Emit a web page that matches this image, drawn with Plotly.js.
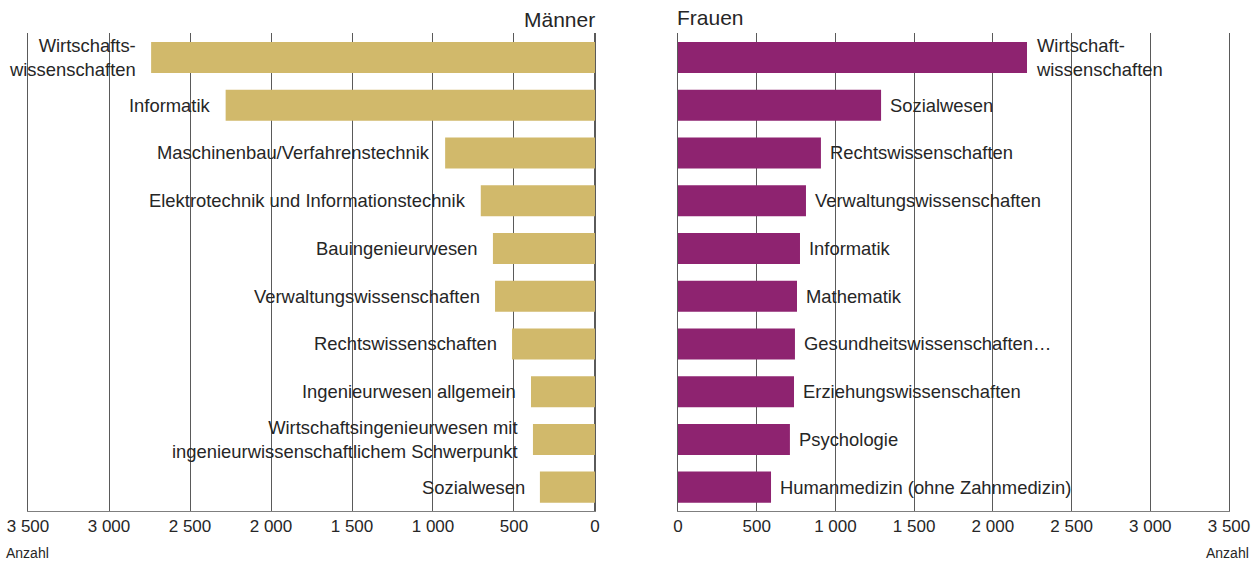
<!DOCTYPE html>
<html>
<head>
<meta charset="utf-8">
<script src="https://cdn.plot.ly/plotly-3.0.1.min.js"></script>
<style>html,body{margin:0;padding:0;background:#fff;}#chart{width:1257px;height:565px;}</style>
</head>
<body>
<div id="chart"></div>
<script>
const menCategories = [
  "Wirtschafts-<br>wissenschaften",
  "Informatik",
  "Maschinenbau/Verfahrenstechnik",
  "Elektrotechnik und Informationstechnik",
  "Bauingenieurwesen",
  "Verwaltungswissenschaften",
  "Rechtswissenschaften",
  "Ingenieurwesen allgemein",
  "Wirtschaftsingenieurwesen mit<br>ingenieurwissenschaftlichem Schwerpunkt",
  "Sozialwesen"
];
const menValues = [2740, 2280, 925, 705, 630, 617, 512, 395, 383, 340];

const womenCategories = [
  "Wirtschaft-<br>wissenschaften",
  "Sozialwesen",
  "Rechtswissenschaften",
  "Verwaltungswissenschaften",
  "Informatik",
  "Mathematik",
  "Gesundheitswissenschaften…",
  "Erziehungswissenschaften",
  "Psychologie",
  "Humanmedizin (ohne Zahnmedizin)"
];
const womenValues = [2217, 1290, 908, 813, 775, 756, 743, 737, 711, 591];

const tickValues = [0, 500, 1000, 1500, 2000, 2500, 3000, 3500];
const tickLabels = ["0", "500", "1 000", "1 500", "2 000", "2 500", "3 000", "3 500"];

const menColor = "#D1B96B";
const womenColor = "#8E2370";
const gridColor = "#5a5a5a";
const textColor = "#262626";
const fontFamily = "Liberation Sans, Arial, sans-serif";

const traces = [
  {
    type: "bar", orientation: "h",
    x: menValues, y: menCategories,
    xaxis: "x", yaxis: "y",
    marker: {color: menColor},
    hoverinfo: "skip"
  },
  {
    type: "bar", orientation: "h",
    x: womenValues, y: womenCategories,
    xaxis: "x2", yaxis: "y2",
    marker: {color: womenColor},
    hoverinfo: "skip"
  }
];

const labelFont = {size: 18.4, color: textColor, family: fontFamily};
const annotations = [];
menCategories.forEach((c, i) => {
  annotations.push({
    x: menValues[i], y: c, xref: "x", yref: "y",
    text: c, showarrow: false,
    xanchor: "right", align: "right", xshift: -13,
    font: labelFont
  });
});
womenCategories.forEach((c, i) => {
  annotations.push({
    x: womenValues[i], y: c, xref: "x2", yref: "y2",
    text: c, showarrow: false,
    xanchor: "left", align: "left", xshift: 7,
    font: labelFont
  });
});
annotations.push({
  x: 0.4721, y: 1, xref: "paper", yref: "paper",
  text: "Männer", showarrow: false, xanchor: "right", yanchor: "bottom", yshift: 0, xshift: 2,
  font: {size: 21, color: textColor, family: fontFamily}
});
annotations.push({
  x: 0.5412, y: 1, xref: "paper", yref: "paper",
  text: "Frauen", showarrow: false, xanchor: "left", yanchor: "bottom", yshift: 2, xshift: -3,
  font: {size: 21, color: textColor, family: fontFamily}
});
annotations.push({
  x: 0, y: 0, xref: "paper", yref: "paper",
  text: "Anzahl", showarrow: false, xanchor: "left", yanchor: "top", xshift: -24, yshift: -32,
  font: {size: 14, color: textColor, family: fontFamily}
});
annotations.push({
  x: 1, y: 0, xref: "paper", yref: "paper",
  text: "Anzahl", showarrow: false, xanchor: "right", yanchor: "top", xshift: 22, yshift: -32,
  font: {size: 14, color: textColor, family: fontFamily}
});

const xCommon = {
  tickvals: tickValues, ticktext: tickLabels,
  showgrid: true, gridcolor: gridColor, gridwidth: 1,
  zeroline: true, zerolinecolor: gridColor, zerolinewidth: 1,
  showline: true, linecolor: "#7f7f7f", linewidth: 1,
  ticks: "", ticklen: 0,
  tickfont: {size: 17, color: textColor, family: fontFamily},
  fixedrange: true
};
const yCommon = {
  autorange: "reversed", showticklabels: false, showgrid: false, zeroline: false,
  showline: true, mirror: true, linecolor: gridColor, linewidth: 1,
  ticks: "", fixedrange: true
};

const layout = {
  width: 1257, height: 565,
  margin: {l: 28, r: 28, t: 33, b: 54},
  paper_bgcolor: "#fff", plot_bgcolor: "#fff",
  showlegend: false,
  bargap: 0.35,
  font: {family: fontFamily, color: textColor},
  xaxis: Object.assign({}, xCommon, {domain: [0, 0.4721], range: [3500, 0], anchor: "y"}),
  xaxis2: Object.assign({}, xCommon, {domain: [0.5412, 1], range: [0, 3500], anchor: "y2"}),
  yaxis: Object.assign({}, yCommon, {anchor: "x"}),
  yaxis2: Object.assign({}, yCommon, {anchor: "x2"}),
  annotations: annotations
};

Plotly.newPlot("chart", traces, layout, {displayModeBar: false, staticPlot: true});
</script>
</body>
</html>
